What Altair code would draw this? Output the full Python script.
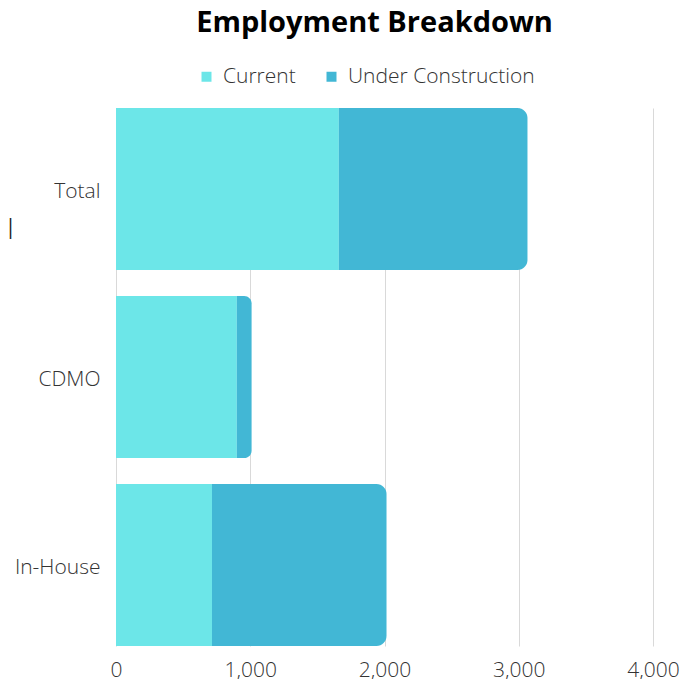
import altair as alt
import pandas as pd

categories = ["Total", "CDMO", "In-House"]
current = [1660, 900, 715]
under_construction = [1405, 110, 1300]
series_names = ["Current", "Under Construction"]
series_colors = ["#6ce6e8", "#42b7d5"]
x_ticks = [0, 1000, 2000, 3000, 4000]

rows = []
for c, cur, uc in zip(categories, current, under_construction):
    rows.append({"category": c, "series": series_names[0], "start": 0, "end": cur})
    rows.append({"category": c, "series": series_names[1], "start": cur, "end": cur + uc})
df = pd.DataFrame(rows)

FONT = "Open Sans"
FS = 21

chart = alt.Chart(df).mark_bar(
    cornerRadiusTopRight=alt.expr("datum.series == 'Under Construction' ? 10 : 0"),
    cornerRadiusBottomRight=alt.expr("datum.series == 'Under Construction' ? 10 : 0"),
).encode(
    y=alt.Y("category:N", sort=categories,
            scale=alt.Scale(paddingInner=0.138, paddingOuter=0),
            axis=alt.Axis(title="|", titleAngle=0, titleX=-106, titleY=119,
                          titleAlign="center", titleBaseline="middle",
                          titleFont=FONT, titleFontWeight="normal", titleFontSize=21,
                          titleColor="#222222",
                          domain=False, ticks=False, labelPadding=16, labelOffset=3,
                          labelFontSize=FS, labelFont=FONT, labelFontWeight=300,
                          labelColor="#333333")),
    x=alt.X("start:Q", title=None,
            scale=alt.Scale(domain=[0, 4000], nice=False),
            axis=alt.Axis(values=x_ticks, format=",.0f", domain=False, ticks=False,
                          grid=True, gridColor="#d9d9d9", labelPadding=13,
                          labelFlush=False, labelOverlap=False,
                          labelFontSize=FS, labelFont=FONT, labelFontWeight=300,
                          labelColor="#333333")),
    x2="end:Q",
    color=alt.Color("series:N",
                    scale=alt.Scale(domain=series_names, range=series_colors),
                    legend=alt.Legend(title=None, orient="none", direction="horizontal",
                                      legendX=80, legendY=-42,
                                      symbolType="square", symbolSize=100,
                                      labelFontSize=FS, labelFont=FONT,
                                      labelFontWeight=300, labelColor="#333333",
                                      labelLimit=0,
                                      columnPadding=25, labelOffset=6)),
).properties(
    width=537,
    height=538,
    title=alt.TitleParams("Employment Breakdown", fontSize=29, font=FONT,
                          fontWeight="bold", color="#000000", anchor="middle",
                          dx=-10, offset=28),
    autosize=alt.AutoSizeParams(type="none"),
    padding={"left": 108, "top": 100, "right": 30, "bottom": 33},
).configure_view(stroke=None)

chart.save("out.html", embed_options={"renderer": "svg", "actions": False})
